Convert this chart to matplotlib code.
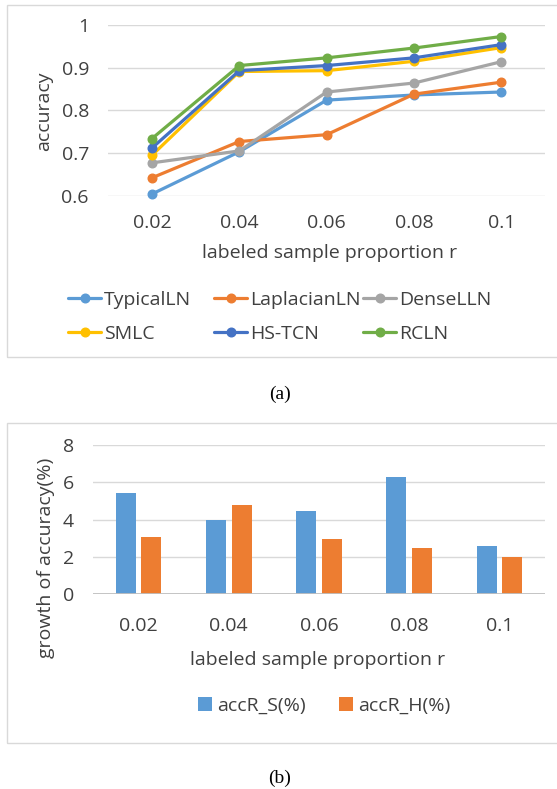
import matplotlib
matplotlib.use("Agg")
import matplotlib.pyplot as plt
from matplotlib.patches import Rectangle
import numpy as np

plt.rcParams['font.family'] = ['Open Sans', 'DejaVu Sans']

# ---------------- data ----------------
categories = ["0.02", "0.04", "0.06", "0.08", "0.1"]
series_names = ["TypicalLN", "LaplacianLN", "DenseLLN", "SMLC", "HS-TCN", "RCLN"]
typical_ln = [0.604, 0.703, 0.824, 0.836, 0.843]
laplacian_ln = [0.642, 0.727, 0.743, 0.838, 0.866]
dense_lln = [0.677, 0.705, 0.843, 0.864, 0.914]
smlc = [0.695, 0.891, 0.893, 0.915, 0.947]
hs_tcn = [0.712, 0.893, 0.905, 0.923, 0.954]
rcln = [0.734, 0.905, 0.923, 0.946, 0.973]
y_ticks_a = [0.6, 0.7, 0.8, 0.9, 1.0]
y_ticklabels_a = ["0.6", "0.7", "0.8", "0.9", "1"]

bar_names = ["accR_S(%)", "accR_H(%)"]
accR_S = [5.45, 3.96, 4.46, 6.27, 2.61]
accR_H = [3.07, 4.79, 2.98, 2.48, 1.98]
y_ticks_b = [0, 2, 4, 6, 8]

colors = ["#5B9BD5", "#ED7D31", "#A5A5A5", "#FFC000", "#4472C4", "#70AD47"]
grid_c = "#D9D9D9"
text_c = "#404040"

W, H = 557, 789
fig = plt.figure(figsize=(W / 100, H / 100), dpi=100)


def fx(px):
    return px / W


def fy(py):
    return 1 - py / H


def axes_px(left, top, right, bottom):
    return [fx(left), fy(bottom), (right - left) / W, (bottom - top) / H]


FS = 14

# boxes
fig.patches.append(Rectangle((fx(7), fy(357)), fx(600) - fx(7), fy(5) - fy(357),
                             transform=fig.transFigure, fill=False, ec=grid_c, lw=1.0))
fig.patches.append(Rectangle((fx(7), fy(743)), fx(600) - fx(7), fy(423) - fy(743),
                             transform=fig.transFigure, fill=False, ec=grid_c, lw=1.0))

# ---------------- chart (a) ----------------
ax = fig.add_axes(axes_px(108.4, 25, 545, 195.7))
x = np.arange(len(categories))
all_series = [typical_ln, laplacian_ln, dense_lln, smlc, hs_tcn, rcln]
handles = []
for name, vals, c in zip(series_names, all_series, colors):
    h, = ax.plot(x, vals, color=c, lw=2.3, marker='o', ms=6.2, mec=c, mfc=c,
                 clip_on=False, zorder=3, label=name, solid_capstyle='round')
    handles.append(h)
ax.set_xlim(-0.5, len(categories) - 0.5)
ax.set_ylim(0.6, 1.0)
ax.set_yticks(y_ticks_a)
ax.set_yticklabels(y_ticklabels_a)
ax.set_xticks(x)
ax.set_xticklabels(categories)
for yv in y_ticks_a:
    ax.axhline(yv, color=grid_c, lw=1.0, zorder=1)
for s in ax.spines.values():
    s.set_visible(False)
ax.tick_params(axis='both', length=0, labelsize=FS, colors=text_c)
ax.tick_params(axis='y', pad=14)
ax.tick_params(axis='x', pad=13)

fig.text(fx(44), fy(111), "accuracy", rotation=90, ha='center', va='center',
         fontsize=FS, color=text_c)
fig.text(fx(330), fy(253), "labeled sample proportion r", ha='center', va='center',
         fontsize=FS, color=text_c)

col_x = [68, 214, 363]
for ci in range(3):
    hs = [handles[ci], handles[ci + 3]]
    fig.legend(hs, [h.get_label() for h in hs], loc='upper left',
               bbox_to_anchor=(fx(col_x[ci]), fy(291)), frameon=False,
               fontsize=FS, handlelength=1.7, handletextpad=0.15,
               labelspacing=0.82, borderpad=0, borderaxespad=0,
               labelcolor=text_c)

fig.text(fx(280), fy(394), "(a)", ha='center', va='center', fontsize=14,
         family='Liberation Serif', color='black')

# ---------------- chart (b) ----------------
bx = fig.add_axes(axes_px(93.4, 445, 544.6, 594.3))
bw = 0.222
off = 0.143
b1 = bx.bar(x - off, accR_S, width=bw, color=colors[0], zorder=3, label=bar_names[0])
b2 = bx.bar(x + off, accR_H, width=bw, color=colors[1], zorder=3, label=bar_names[1])
bx.set_xlim(-0.5, len(categories) - 0.5)
bx.set_ylim(0, 8)
bx.set_yticks(y_ticks_b)
bx.set_xticks(x)
bx.set_xticklabels(categories)
for yv in y_ticks_b[1:]:
    bx.axhline(yv, color=grid_c, lw=1.0, zorder=1)
bx.axhline(0, color="#BFBFBF", lw=1.3, zorder=4)
for s in bx.spines.values():
    s.set_visible(False)
bx.tick_params(axis='both', length=0, labelsize=FS, colors=text_c)
bx.tick_params(axis='y', pad=14)
bx.tick_params(axis='x', pad=16)

fig.text(fx(46), fy(558), "growth of accuracy(%)", rotation=90, ha='center', va='center',
         fontsize=FS, color=text_c)
fig.text(fx(318), fy(660), "labeled sample proportion r", ha='center', va='center',
         fontsize=FS, color=text_c)

fig.legend([b1, b2], bar_names, loc='center left', bbox_to_anchor=(fx(198), fy(706)),
           ncol=2, frameon=False, fontsize=FS, handlelength=0.7, handleheight=0.7,
           handletextpad=0.3, columnspacing=1.7, borderpad=0, borderaxespad=0,
           labelcolor=text_c)

fig.text(fx(280), fy(778), "(b)", ha='center', va='center', fontsize=14,
         family='Liberation Serif', color='black')

fig.savefig("out.png", dpi=100)
